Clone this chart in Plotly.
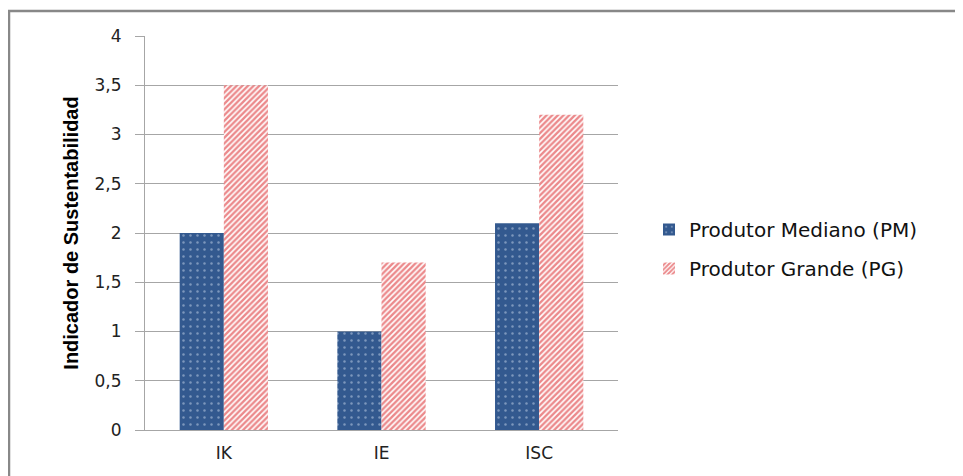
import plotly.graph_objects as go

categories = ["IK", "IE", "ISC"]
pm_values = [2.0, 1.0, 2.1]
pg_values = [3.5, 1.7, 3.2]
series_names = ["Produtor Mediano (PM)", "Produtor Grande (PG)"]
y_ticks = [0, 0.5, 1, 1.5, 2, 2.5, 3, 3.5, 4]

# page offset of 8px (body margin) is compensated below
OFF = 8
L, R, T, B = 145 - OFF, 618 - OFF, 36 - OFF, 430 - OFF
W, H = 963, 476

fig = go.Figure()
fig.add_trace(go.Bar(
    x=categories, y=pm_values, name=series_names[0], legendgroup="a",
    marker=dict(color="#33598f", line=dict(width=0),
                pattern=dict(shape=".", fgcolor="#c8d6ea", bgcolor="#33598f",
                             size=7, solidity=0.1, fillmode="overlay")),
))
fig.add_trace(go.Bar(
    x=categories, y=pg_values, name=series_names[1], legendgroup="b",
    marker=dict(color="white", line=dict(width=0),
                pattern=dict(shape="/", fgcolor="#d81418", bgcolor="white",
                             size=4, solidity=0.6, fillmode="overlay")),
))

ph = B - T
pw = R - L
fig.add_shape(type="rect", xref="paper", yref="paper",
              x0=(9 - OFF - L) / pw, x1=(W + 20 - L) / pw,
              y0=(B - (H + 20)) / ph, y1=(B - (11 - OFF)) / ph,
              line=dict(color="#888888", width=2.5), fillcolor="rgba(0,0,0,0)",
              layer="below")

fig.update_layout(
    width=W, height=H,
    margin=dict(l=L, r=W - R, t=T, b=H - B),
    paper_bgcolor="white", plot_bgcolor="white",
    separators=",.",
    barmode="group", bargap=0.44, bargroupgap=0,
    font=dict(family="DejaVu Sans, sans-serif", size=16, color="#222"),
    legend=dict(x=(649 - OFF - L) / pw, y=(B - (210 - OFF)) / ph, xanchor="left", yanchor="top",
                font=dict(family="DejaVu Sans, sans-serif", size=20, color="#111"),
                tracegroupgap=10, itemwidth=30, bgcolor="rgba(0,0,0,0)"),
    showlegend=True,
)
fig.update_yaxes(
    range=[0, 4], tickvals=y_ticks, showgrid=True, gridcolor="#a6a6a6", gridwidth=1,
    showline=True, linecolor="#a6a6a6", linewidth=1, ticks="outside", ticklen=9,
    tickcolor="#a6a6a6", ticklabelstandoff=10, zeroline=False,
    tickfont=dict(size=17),
    title=dict(text="<b>Indicador de Sustentabilidad</b>",
               font=dict(family="Liberation Sans Narrow, Liberation Sans, sans-serif", size=20, color="#000"),
               standoff=10),
)
fig.update_xaxes(
    showline=True, linecolor="#a6a6a6", linewidth=1, ticks="", ticklabelstandoff=8,
    showgrid=False, tickfont=dict(size=17),
)

fig.write_html("out.html")
